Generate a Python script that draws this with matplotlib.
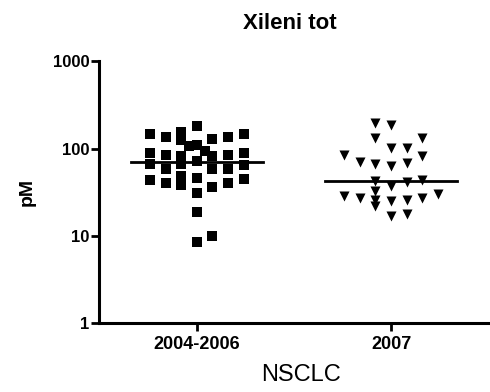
import numpy as np
import matplotlib.pyplot as plt

plt.rcParams['font.family'] = ['Liberation Sans', 'DejaVu Sans']

groups = ['2004-2006', '2007']

# pM values per group, with the column slot each point sits in (scatter spread)
slots_0406 = [-3, -3, -3, -3,
              -2, -2, -2, -2,
              -1, -1, -1, -1, -1, -1,
              -0.5,
              0, 0, 0, 0, 0, 0, 0,
              0.5,
              1, 1, 1, 1, 1,
              2, 2, 2, 2,
              3, 3, 3, 3]
pm_0406 = [145, 89, 66, 44,
           136, 85, 59, 40,
           153, 124, 83, 67, 48, 38,
           108,
           180, 111, 72, 46, 31, 19, 8.6,
           93,
           129, 82, 58, 36, 10,
           136, 85, 59, 40,
           146, 90, 65, 45]

slots_2007 = [-3, -3,
              -2, -2,
              -1, -1, -1, -1, -1, -1, -1,
              0, 0, 0, 0, 0, 0,
              1, 1, 1, 1, 1,
              2, 2, 2, 2,
              3]
pm_2007 = [84, 29,
           70, 27,
           197, 133, 67, 43, 33, 26, 22,
           185, 102, 63, 37, 25, 17,
           102, 69, 41, 26, 18,
           133, 82, 44, 27,
           30]

col_step = 0.08
half_line = 0.34

fig = plt.figure(figsize=(4.9, 3.92), dpi=100)
ax = fig.add_axes([0.202, 0.175, 0.794, 0.669])

for i, (slots, vals, mk, sz) in enumerate([(slots_0406, pm_0406, 's', 42),
                                           (slots_2007, pm_2007, 'v', 52)]):
    x = i + np.array(slots) * col_step
    ax.scatter(x, vals, marker=mk, s=sz, c='black', linewidths=0, zorder=3)
    med = np.median(vals)
    ax.plot([i - half_line, i + half_line], [med, med], color='black', lw=2, zorder=4)

ax.set_yscale('log')
ax.set_ylim(1, 1000)
ax.set_xlim(-0.505, 1.5)
ax.set_yticks([1, 10, 100, 1000])
ax.set_yticklabels(['1', '10', '100', '1000'])
ax.yaxis.set_minor_locator(plt.NullLocator())
ax.set_xticks([0, 1])
ax.set_xticklabels(groups)

for s in ['top', 'right']:
    ax.spines[s].set_visible(False)
for s in ['left', 'bottom']:
    ax.spines[s].set_linewidth(2.2)

ax.tick_params(axis='both', direction='out', length=6, width=2)
ax.tick_params(axis='y', pad=1, labelsize=12)
ax.tick_params(axis='x', pad=3, labelsize=13)
for lbl in ax.get_xticklabels() + ax.get_yticklabels():
    lbl.set_fontweight('bold')

ax.set_title('Xileni tot', fontsize=16, fontweight='bold', x=0.49, y=1.09)
ax.set_ylabel('pM', fontsize=14, fontweight='bold')
ax.yaxis.set_label_coords(-0.162, 0.5)
ax.set_xlabel('NSCLC', fontsize=17)
ax.xaxis.set_label_coords(0.52, -0.155)

fig.savefig('out.png', dpi=100)
